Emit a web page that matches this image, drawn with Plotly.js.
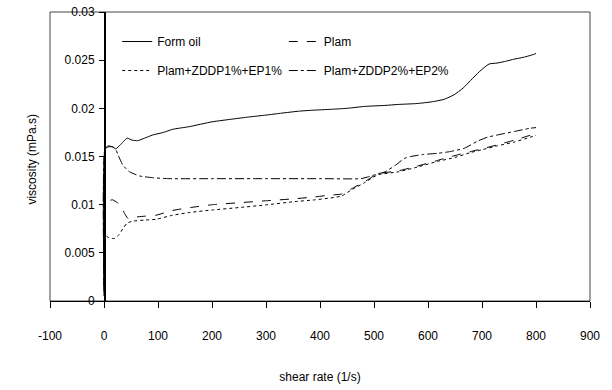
<!DOCTYPE html>
<html>
<head>
<meta charset="utf-8">
<script src="https://cdn.plot.ly/plotly-3.0.1.min.js"></script>
<style>html,body{margin:0;padding:0;background:#fff;}#chart{width:612px;height:390px;}</style>
</head>
<body>
<div id="chart"></div>
<script>
// Series names
const seriesNames = ["Form oil", "Plam", "Plam+ZDDP1%+EP1%", "Plam+ZDDP2%+EP2%"];

// Form oil
const formOilX = [0, 2, 8, 16, 22, 30, 43, 52, 62, 75, 90, 110, 127, 158, 200, 240, 268, 300, 329, 360, 385, 421, 450, 483, 520, 544, 580, 610, 630, 648, 665, 679, 695, 713, 728, 745, 759, 777, 796, 800];
const formOilY = [0.0005, 0.0158, 0.0161, 0.0160, 0.0158, 0.0162, 0.0169, 0.0167, 0.01664, 0.0169, 0.01723, 0.0175, 0.01782, 0.0181, 0.0186, 0.0189, 0.0191, 0.0193, 0.0195, 0.0197, 0.0198, 0.0199, 0.0200, 0.0202, 0.0203, 0.0204, 0.0205, 0.0207, 0.02094, 0.0214, 0.0221, 0.0229, 0.0238, 0.0246, 0.0247, 0.0249, 0.0251, 0.0253, 0.0256, 0.0257];

// Plam
const plamX = [0, 2, 8, 16, 25, 32, 38, 44, 55, 75, 96, 127, 160, 201, 250, 299, 350, 390, 420, 440, 460, 483, 507, 544, 580, 618, 650, 678, 700, 728, 760, 789, 800];
const plamY = [0.0015, 0.0102, 0.0104, 0.0105, 0.0102, 0.0098, 0.0091, 0.0086, 0.0087, 0.0088, 0.0089, 0.0094, 0.0097, 0.0100, 0.0102, 0.0104, 0.0106, 0.0108, 0.0110, 0.0111, 0.0117, 0.0124, 0.0132, 0.0135, 0.0140, 0.0146, 0.0151, 0.0155, 0.0158, 0.0162, 0.0167, 0.0172, 0.0174];

// Plam+ZDDP1%+EP1%
const zddp1X = [0, 2, 8, 14, 20, 28, 36, 43, 55, 75, 96, 127, 160, 201, 250, 299, 350, 390, 420, 440, 460, 483, 507, 544, 580, 618, 650, 678, 700, 728, 760, 789, 800];
const zddp1Y = [0.002, 0.0068, 0.0066, 0.0065, 0.0065, 0.0069, 0.0076, 0.0081, 0.0083, 0.0084, 0.00848, 0.0089, 0.0092, 0.00945, 0.0097, 0.00997, 0.0103, 0.0105, 0.0107, 0.0109, 0.0116, 0.0123, 0.0131, 0.0134, 0.0139, 0.0145, 0.0149, 0.0154, 0.0157, 0.0161, 0.0165, 0.0170, 0.0172];

// Plam+ZDDP2%+EP2%
const zddp2X = [0, 2, 8, 16, 22, 26, 35, 47, 66, 90, 120, 200, 300, 400, 476, 490, 507, 520, 540, 556, 568, 590, 618, 640, 667, 692, 710, 728, 760, 789, 800];
const zddp2Y = [0.001, 0.0158, 0.0160, 0.0160, 0.0157, 0.01516, 0.0141, 0.01342, 0.01298, 0.0128, 0.0127, 0.0127, 0.0127, 0.0127, 0.0127, 0.0129, 0.0132, 0.0134, 0.0141, 0.0148, 0.0150, 0.0152, 0.01533, 0.0155, 0.01585, 0.0166, 0.0170, 0.01723, 0.0176, 0.01793, 0.0180];

// Axis ticks
const xTicks = [-100, 0, 100, 200, 300, 400, 500, 600, 700, 800, 900];
const xTickLabels = ["-100", "0", "100", "200", "300", "400", "500", "600", "700", "800", "900"];
const yTicks = [0, 0.005, 0.01, 0.015, 0.02, 0.025, 0.03];
const yTickLabels = ["0", "0.005", "0.01", "0.015", "0.02", "0.025", "0.03"];
const xTitle = "shear rate (1/s)";
const yTitle = "viscosity (mPa.s)";

const FONT = "Liberation Sans, Arial, sans-serif";
const lineBase = {color: "#000", width: 1, shape: "spline", smoothing: 0.5};

const traces = [
  {x: formOilX, y: formOilY, name: seriesNames[0], legendgroup: "g1", mode: "lines", line: Object.assign({}, lineBase, {dash: "solid"}), legend: "legend"},
  {x: plamX, y: plamY, name: seriesNames[1], legendgroup: "g2", mode: "lines", line: Object.assign({}, lineBase, {dash: "dash"}), legend: "legend2"},
  {x: zddp1X, y: zddp1Y, name: seriesNames[2], legendgroup: "g3", mode: "lines", line: Object.assign({}, lineBase, {dash: "dot"}), legend: "legend"},
  {x: zddp2X, y: zddp2Y, name: seriesNames[3], legendgroup: "g4", mode: "lines", line: Object.assign({}, lineBase, {dash: "dashdot"}), legend: "legend2"}
];

const legendCommon = {
  bgcolor: "rgba(0,0,0,0)", borderwidth: 0,
  font: {family: FONT, size: 12, color: "#000"},
  orientation: "v", yanchor: "top", xanchor: "left",
  tracegroupgap: 10, traceorder: "grouped"
};

const layout = {
  width: 612, height: 390,
  margin: {l: 50, r: 22, t: 12, b: 89},
  paper_bgcolor: "#fff", plot_bgcolor: "#fff",
  font: {family: FONT, size: 12, color: "#000"},
  showlegend: true,
  legend: Object.assign({}, legendCommon, {x: 0.1245, y: 0.948}),
  legend2: Object.assign({}, legendCommon, {x: 0.433, y: 0.948}),
  xaxis: {
    range: [-100, 900], domain: [0, 1],
    tickvals: xTicks, ticktext: xTickLabels, ticks: "outside", ticklen: 6, tickcolor: "#000", tickwidth: 1,
    showline: true, linecolor: "#000", linewidth: 1,
    showgrid: false, zeroline: false,
    ticklabelstandoff: 18,
    tickfont: {family: FONT, size: 12, color: "#000"},
    title: {text: xTitle, font: {family: FONT, size: 12, color: "#000"}, standoff: 30},
    automargin: false
  },
  yaxis: {
    range: [0, 0.03], anchor: "free", position: 0.1,
    tickvals: yTicks, ticktext: yTickLabels,
    ticks: "outside", ticklen: 5, tickcolor: "#000", tickwidth: 1,
    showline: true, linecolor: "#000", linewidth: 1.5,
    showgrid: false, zeroline: false,
    ticklabelstandoff: 2,
    tickfont: {family: FONT, size: 12, color: "#000"},
    automargin: false
  },
  annotations: [
    {text: yTitle, xref: "paper", yref: "paper", x: -0.033, y: 0.49, textangle: -90,
     showarrow: false, xanchor: "center", yanchor: "middle",
     font: {family: FONT, size: 12, color: "#000"}}
  ],
  shapes: [
    {type: "rect", xref: "paper", yref: "paper", x0: 0, x1: 1, y0: 0, y1: 1,
     line: {color: "#444", width: 1}, fillcolor: "rgba(0,0,0,0)", layer: "below"}
  ]
};

Plotly.newPlot("chart", traces, layout, {staticPlot: true, displayModeBar: false});
</script>
</body>
</html>
